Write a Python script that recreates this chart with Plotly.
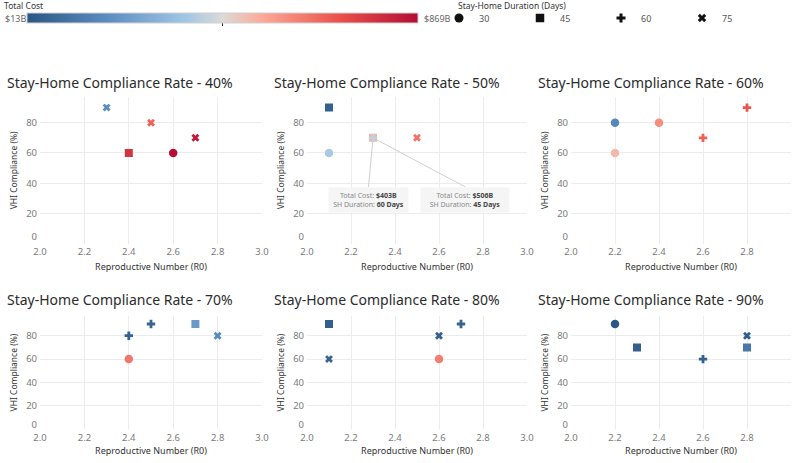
import plotly.graph_objects as go

# ---------------- data ----------------
rates = ["40%", "50%", "60%", "70%", "80%", "90%"]

r0_40 = [2.3, 2.5, 2.7, 2.4, 2.6]
vhi_40 = [90, 80, 70, 60, 60]
days_40 = [75, 75, 75, 45, 30]
cost_40 = [190, 660, 835, 770, 869]

r0_50 = [2.1, 2.1, 2.3, 2.3, 2.5]
vhi_50 = [90, 60, 70, 70, 70]
days_50 = [45, 30, 45, 60, 75]
cost_50 = [45, 370, 506, 403, 630]

r0_60 = [2.2, 2.2, 2.4, 2.6, 2.8]
vhi_60 = [80, 60, 80, 70, 90]
days_60 = [30, 30, 30, 60, 60]
cost_60 = [175, 500, 580, 665, 690]

r0_70 = [2.4, 2.5, 2.7, 2.8, 2.4]
vhi_70 = [80, 90, 90, 80, 60]
days_70 = [60, 60, 45, 75, 30]
cost_70 = [50, 60, 225, 180, 625]

r0_80 = [2.1, 2.1, 2.6, 2.7, 2.6]
vhi_80 = [90, 60, 80, 90, 60]
days_80 = [45, 75, 75, 60, 30]
cost_80 = [40, 55, 50, 60, 610]

r0_90 = [2.2, 2.3, 2.6, 2.8, 2.8]
vhi_90 = [90, 70, 60, 80, 70]
days_90 = [30, 45, 60, 75, 45]
cost_90 = [13, 40, 45, 35, 120]

durations = [30, 45, 60, 75]
cost_min, cost_max, cost_mid = 13, 869, 441
cost_labels = ["$13B", "$869B"]
x_ticks = [2.0, 2.2, 2.4, 2.6, 2.8, 3.0]
x_ticktext = ["2.0", "2.2", "2.4", "2.6", "2.8", "3.0"]
y_ticks = [0, 20, 40, 60, 80]

panels = [
    (r0_40, vhi_40, days_40, cost_40),
    (r0_50, vhi_50, days_50, cost_50),
    (r0_60, vhi_60, days_60, cost_60),
    (r0_70, vhi_70, days_70, cost_70),
    (r0_80, vhi_80, days_80, cost_80),
    (r0_90, vhi_90, days_90, cost_90),
]

# ---------------- styles ----------------
W, H = 793, 463
FONT = "Noto Sans"
symbol_of = {30: "circle", 45: "square", 60: "cross", 75: "x"}
size_of = {30: 8.5, 45: 8, 60: 7, 75: 7}

colorscale = [
    [0.0, "#2a5783"],
    [0.2, "#5a8bbf"],
    [0.4, "#9ec5e4"],
    [0.5, "#dcdad8"],
    [0.6, "#fcaa98"],
    [0.8, "#ea5049"],
    [1.0, "#b40d36"],
]

col_px = [(40, 262), (307, 527), (571, 791)]
row_px = [(97.0, 243.7), (315.8, 429.3)]  # (top, bottom) in px from top
zero_shift = [-7, -5]  # edge label nudge (upwards) like the reference


def xdom(c):
    a, b = col_px[c]
    return [a / W, b / W]


def ydom(r):
    t, b = row_px[r]
    return [(H - b) / H, (H - t) / H]


fig = go.Figure()

for i, (xs, ys, ds, cs) in enumerate(panels):
    n = i + 1
    sx = "" if n == 1 else str(n)
    fig.add_trace(go.Scatter(
        x=xs, y=ys, mode="markers",
        marker=dict(symbol=[symbol_of[d] for d in ds],
                    size=[size_of[d] for d in ds],
                    color=cs, coloraxis="coloraxis", opacity=1,
                    line=dict(width=0)),
        showlegend=False, xaxis=f"x{sx}", yaxis=f"y{sx}", hoverinfo="skip",
    ))
    # empty trace to carry the overlay axis holding the "0" label
    fig.add_trace(go.Scatter(x=[None], y=[None], mode="markers", showlegend=False,
                             xaxis=f"x{sx}", yaxis=f"y{n + 6}", hoverinfo="skip"))

# shape legend (dummy traces)
for d in durations:
    fig.add_trace(go.Scatter(
        x=[None], y=[None], mode="markers", name=str(d),
        marker=dict(symbol=symbol_of[d], size=size_of[d] + 0.5, color="#111111"),
        showlegend=True,
    ))

tickfont = dict(family=FONT, size=9.5, color="#7a7a7a")
axis_common = dict(showgrid=True, gridcolor="#ececec", gridwidth=1,
                   zeroline=False, showline=False, automargin=False,
                   tickfont=tickfont, ticks="")

layout_axes = {}
for i in range(6):
    n = i + 1
    r, c = divmod(i, 3)
    sx = "" if n == 1 else str(n)
    layout_axes[f"xaxis{sx}"] = dict(
        axis_common, domain=xdom(c), anchor=f"y{sx}",
        range=[2.0, 3.0], tickvals=x_ticks, ticktext=x_ticktext,
        ticklabelstandoff=1,
        title=dict(text="Reproductive Number (R0)",
                   font=dict(family=FONT, size=9, color="#333333"),
                   standoff=6 if r == 0 else 4),
    )
    layout_axes[f"yaxis{sx}"] = dict(
        axis_common, domain=ydom(r), anchor=f"x{sx}",
        range=[0, 97], tickvals=y_ticks,
        ticktext=[""] + [str(v) for v in y_ticks[1:]],
        ticklabelstandoff=2,
        title=dict(text="VHI Compliance (%)",
                   font=dict(family=FONT, size=8.5, color="#333333"),
                   standoff=7),
    )
    layout_axes[f"yaxis{n + 6}"] = dict(
        overlaying=f"y{sx}", anchor=f"x{sx}", side="left",
        range=[0, 97], tickvals=[y_ticks[0]], ticktext=[str(y_ticks[0])],
        showgrid=False, zeroline=False, showline=False, automargin=False,
        tickfont=tickfont, ticks="", ticklabelstandoff=2,
        ticklabelshift=zero_shift[r],
    )

fig.update_layout(**layout_axes)

annotations = []
# panel titles
for i, rate in enumerate(rates):
    r, c = divmod(i, 3)
    left = col_px[c][0] - 35
    ytitle = 82 if r == 0 else 299
    annotations.append(dict(
        text=f"Stay-Home Compliance Rate - {rate}",
        xref="paper", yref="paper", x=left / W, y=(H - ytitle) / H,
        xanchor="left", yanchor="middle", showarrow=False,
        font=dict(family=FONT, size=14, color="#2b2b2b"),
    ))

# colour legend + shape legend texts
annotations += [
    dict(text="Total Cost", xref="paper", yref="paper", x=2 / W, y=(H - 6) / H,
         xanchor="left", yanchor="middle", showarrow=False,
         font=dict(family=FONT, size=8.5, color="#333333")),
    dict(text=cost_labels[0], xref="paper", yref="paper", x=3 / W, y=(H - 18) / H,
         xanchor="left", yanchor="middle", showarrow=False,
         font=dict(family=FONT, size=9, color="#666666")),
    dict(text=cost_labels[1], xref="paper", yref="paper", x=422 / W, y=(H - 18) / H,
         xanchor="left", yanchor="middle", showarrow=False,
         font=dict(family=FONT, size=9, color="#666666")),
    dict(text="Stay-Home Duration (Days)", xref="paper", yref="paper",
         x=456 / W, y=(H - 5.5) / H, xanchor="left", yanchor="middle", showarrow=False,
         font=dict(family=FONT, size=8.5, color="#333333")),
]

# tooltip-like callouts in the 50% panel
callouts = [
    (2.2795, "$403B", "60 Days", 77),
    (2.720, "$506B", "45 Days", 86),
]
for cx, cost_txt, dur_txt, wbox in callouts:
    annotations.append(dict(
        text=(f"<span style='color:#888888'>Total Cost:</span> <b>{cost_txt}</b><br>"
              f"<span style='color:#888888'>SH Duration:</span> <b>{dur_txt}</b>"),
        xref="x2", yref="y2", x=cx, y=37.5, xanchor="center", yanchor="top",
        showarrow=False, bgcolor="#f5f5f5", width=wbox, height=22, borderpad=1,
        font=dict(family=FONT, size=7, color="#444444"), align="center",
    ))

shapes = []
for cx, _, _, _ in callouts:
    shapes.append(dict(type="line", xref="x2", yref="y2",
                       x0=r0_50[2], y0=vhi_50[2], x1=cx, y1=37.5,
                       line=dict(color="#cfcfcf", width=1), layer="between"))

fig.update_layout(
    width=W, height=H,
    margin=dict(l=0, r=0, t=0, b=0, autoexpand=False),
    paper_bgcolor="white", plot_bgcolor="white",
    font=dict(family=FONT),
    annotations=annotations,
    shapes=shapes,
    hovermode=False,
    coloraxis=dict(
        colorscale=colorscale, cmin=cost_min, cmax=cost_max,
        colorbar=dict(
            orientation="h", x=27 / W, xanchor="left", y=(H - 13) / H, yanchor="top",
            lenmode="pixels", len=391, thickness=10, xpad=0, ypad=0,
            outlinewidth=1, outlinecolor="#d0d0d0",
            tickvals=[cost_mid], ticks="outside", ticklen=3, tickwidth=1,
            tickcolor="#222222", showticklabels=False, title=dict(text=""),
        ),
    ),
    legend=dict(
        orientation="h", x=439 / W, y=(H - 3.5) / H, xanchor="left", yanchor="top",
        font=dict(family=FONT, size=9, color="#555555"),
        entrywidth=36, entrywidthmode="pixels", itemwidth=30,
        bgcolor="rgba(0,0,0,0)", tracegroupgap=0,
    ),
)

fig.write_html(
    "out.html",
    config={"displayModeBar": False},
    post_script="document.body.style.margin='0';document.body.style.padding='0';",
)
